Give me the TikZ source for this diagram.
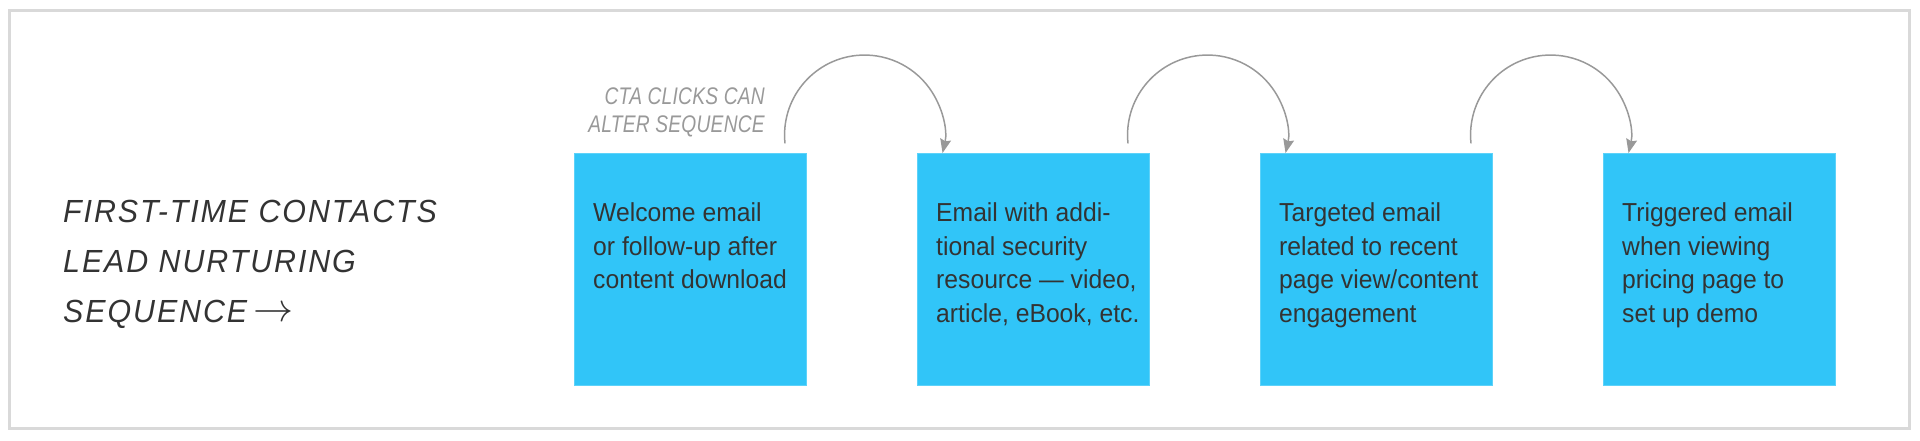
\documentclass[tikz,border=0pt]{standalone}
\usepackage{fontspec}
\setmainfont{Liberation Sans}
\usetikzlibrary{arrows.meta}
\newfontfamily\boxfont[FakeStretch=0.95]{Liberation Sans}
\newfontfamily\ctafont[FakeStretch=0.8,LetterSpace=1]{Liberation Sans}
\newfontfamily\titlefont[FakeStretch=0.95,LetterSpace=6]{Liberation Sans}
\definecolor{framegray}{HTML}{D9D9D9}
\definecolor{boxblue}{HTML}{31C5F8}
\definecolor{boxedge}{HTML}{5DD2F9}
\definecolor{textdark}{HTML}{333333}
\definecolor{connGray}{HTML}{999999}
\tikzset{
  framestyle/.style={draw=framegray, line width=3pt},
  emailbox/.style={rectangle, fill=boxblue, draw=boxedge, line width=1pt,
    minimum width=232pt, minimum height=232pt, inner sep=0pt, anchor=north west},
  boxtext/.style={anchor=north west, inner sep=0pt, align=left, text=textdark,
    font=\boxfont\fontsize{26}{33.5}\selectfont},
  ctatext/.style={anchor=north east, inner sep=0pt, align=right, text=connGray,
    font=\ctafont\itshape\fontsize{24}{28}\selectfont},
  titletext/.style={anchor=north west, inner sep=0pt, align=left, text=textdark,
    font=\titlefont\itshape\fontsize{32}{50}\selectfont},
  conn/.style={draw=connGray, line width=1.5pt,
    -{Stealth[length=14pt, width=11pt, inset=2pt]}}
}
\begin{document}
\begin{tikzpicture}[x=1pt, y=-1pt]
\useasboundingbox (0,0) rectangle (1920,440);
\draw[framestyle] (9.5,10.5) rectangle (1909.5,428.5);

\node[titletext] (title) at (63,199.6) {FIRST-TIME CONTACTS\\LEAD NURTURING\\SEQUENCE\hspace{6pt}\raisebox{1pt}{\resizebox{40pt}{!}{$\rightarrow$}}};

\node[emailbox] (b1) at (574,153) {};
\node[emailbox] (b2) at (917,153) {};
\node[emailbox] (b3) at (1260,153) {};
\node[emailbox] (b4) at (1603,153) {};

\node[boxtext] (t1) at ([xshift=19pt, yshift=-49.5pt]b1.north west) {Welcome email\\or follow-up after\\content download};
\node[boxtext] (t2) at ([xshift=19pt, yshift=-49.5pt]b2.north west) {Email with addi-\\tional security\\resource — video,\\article, eBook, etc.};
\node[boxtext] (t3) at ([xshift=19pt, yshift=-49.5pt]b3.north west) {Targeted email\\related to recent\\page view/content\\engagement};
\node[boxtext] (t4) at ([xshift=19pt, yshift=-49.5pt]b4.north west) {Triggered email\\when viewing\\pricing page to\\set up demo};

\node[ctatext] (cta) at (765,88) {CTA CLICKS CAN\\ALTER SEQUENCE};

\draw[conn] ([xshift=-22pt, yshift=9.6pt]b1.north east) arc[start angle=174, end angle=373, radius=80];
\draw[conn] ([xshift=-22pt, yshift=9.6pt]b2.north east) arc[start angle=174, end angle=373, radius=80];
\draw[conn] ([xshift=-22pt, yshift=9.6pt]b3.north east) arc[start angle=174, end angle=373, radius=80];
\end{tikzpicture}
\end{document}
